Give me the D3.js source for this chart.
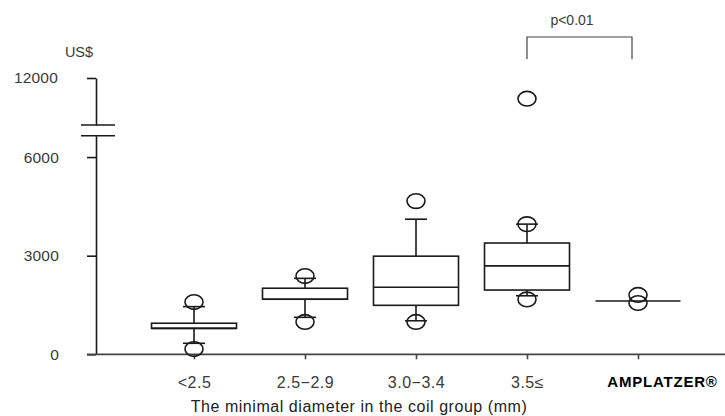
<!DOCTYPE html>
<html><head><meta charset="utf-8">
<script src="https://cdn.jsdelivr.net/npm/d3@7"></script>
<style>
html,body{margin:0;padding:0;background:#fff;}
svg{display:block;font-family:"Liberation Sans",Arial,sans-serif;}
</style></head>
<body>
<svg id="chart" width="725" height="416"></svg>
<script>
// ---- data ----
const categories = ["<2.5", "2.5\u22122.9", "3.0\u22123.4", "3.5\u2264", "AMPLATZER\u00AE"];
const whiskerLow  = [335, 1125, 1020, 1780, 1620];
const q1          = [790, 1675, 1490, 1955, 1620];
const median      = [790, 1675, 2040, 2690, 1620];
const q3          = [945, 2010, 2985, 3385, 1620];
const whiskerHigh = [1450, 2310, 4110, 3960, 1620];
const points      = [[1590, 160], [2380, 985], [4660, 985], [3960, 1670, 9800], [1805, 1560]];
const yTicksLow = [0, 3000, 6000];
const yTicksHigh = [12000];

// ---- layout ----
const svg = d3.select("#chart");
const x = d3.scalePoint().domain(categories).range([194, 638]);
const yLow = d3.scaleLinear().domain([0, 6650]).range([354.3, 135.7]);
const yHigh = d3.scaleLinear().domain([7000, 12000]).range([125, 78]);
const y = v => v > 6650 ? yHigh(v) : yLow(v);
const axisColor = "#444", boxColor = "#1a1a1a", textColor = "#3a3a3a";
const boxW = 85, capW = 22;

// y axis (broken)
function styleY(g){
  g.select(".domain").attr("stroke", boxColor).attr("stroke-width", 1.6);
  g.selectAll(".tick line").attr("stroke", boxColor).attr("stroke-width", 1.6);
  g.selectAll(".tick text").attr("fill", textColor).style("font-size", "15.5px").style("letter-spacing", "0.2px");
}
svg.append("g").attr("transform", "translate(96,0)")
  .call(d3.axisLeft(yLow).tickValues(yTicksLow).tickSize(9).tickSizeOuter(0).tickPadding(28).tickFormat(d3.format("d")))
  .call(styleY);
svg.append("g").attr("transform", "translate(96,0)")
  .call(d3.axisLeft(yHigh).tickValues(yTicksHigh).tickSize(9).tickSizeOuter(0).tickPadding(29).tickFormat(d3.format("d")))
  .call(styleY);
// break marks
[yHigh.range()[0], yLow.range()[1]].forEach(yy => {
  svg.append("line").attr("x1", 81).attr("x2", 115).attr("y1", yy).attr("y2", yy)
    .attr("stroke", boxColor).attr("stroke-width", 1.6);
});
svg.append("text").attr("x", 79).attr("y", 57).attr("text-anchor", "middle")
  .attr("fill", textColor).style("font-size", "14.5px").text("US$");

// x axis
const xg = svg.append("g").attr("transform", `translate(0,${yLow(0)})`)
  .call(d3.axisBottom(x).tickSize(5).tickSizeOuter(0).tickPadding(17));
xg.select(".domain").remove();
xg.selectAll(".tick line").attr("stroke", axisColor).attr("stroke-width", 1.6);
xg.selectAll(".tick text").attr("fill", textColor).style("font-size", "16px").style("letter-spacing", "0.5px");
xg.selectAll(".tick text").filter(d => d === "AMPLATZER\u00AE")
  .attr("fill", "#000").style("font-size", "15px").style("font-weight", "bold").style("letter-spacing", "0.8px").attr("dx", 24);
svg.append("line").attr("x1", 87).attr("x2", 725).attr("y1", yLow(0)).attr("y2", yLow(0))
  .attr("stroke", axisColor).attr("stroke-width", 1.8);
svg.append("text").attr("x", 359).attr("y", 412).attr("text-anchor", "middle")
  .attr("fill", "#222").style("font-size", "16px").style("letter-spacing", "0.55px")
  .text("The minimal diameter in the coil group (mm)");

// boxes
const groups = categories.map((c, i) => ({c, lo: whiskerLow[i], q1: q1[i], med: median[i], q3: q3[i], hi: whiskerHigh[i], pts: points[i]}));
const g = svg.append("g").attr("fill", "none").attr("stroke", boxColor).attr("stroke-width", 1.6);
groups.forEach(d => {
  const cx = x(d.c);
  // whiskers
  g.append("line").attr("x1", cx).attr("x2", cx).attr("y1", y(d.q3)).attr("y2", y(d.hi));
  g.append("line").attr("x1", cx).attr("x2", cx).attr("y1", y(d.q1)).attr("y2", y(d.lo));
  if (d.hi > d.q3) g.append("line").attr("x1", cx - capW/2).attr("x2", cx + capW/2).attr("y1", y(d.hi)).attr("y2", y(d.hi));
  if (d.lo < d.q1) g.append("line").attr("x1", cx - capW/2).attr("x2", cx + capW/2).attr("y1", y(d.lo)).attr("y2", y(d.lo));
  // box
  if (d.q3 > d.q1) {
    g.append("rect").attr("x", cx - boxW/2).attr("width", boxW)
      .attr("y", y(d.q3)).attr("height", y(d.q1) - y(d.q3)).attr("fill", "#fff");
  }
  g.append("line").attr("x1", cx - boxW/2).attr("x2", cx + boxW/2).attr("y1", y(d.med)).attr("y2", y(d.med));
  // points
  d.pts.forEach(p => {
    g.append("ellipse").attr("cx", cx).attr("cy", y(p)).attr("rx", 9).attr("ry", 7.3);
  });
});

// significance bracket
const bx1 = x("3.5\u2264"), bx2 = x("AMPLATZER\u00AE") - 6;
svg.append("path").attr("d", `M${bx1},59V37H${bx2}V59`).attr("fill", "none")
  .attr("stroke", "#444").attr("stroke-width", 1.2);
svg.append("text").attr("x", 572).attr("y", 25).attr("text-anchor", "middle")
  .attr("fill", textColor).style("font-size", "14px").text("p<0.01");
</script>
</body></html>
